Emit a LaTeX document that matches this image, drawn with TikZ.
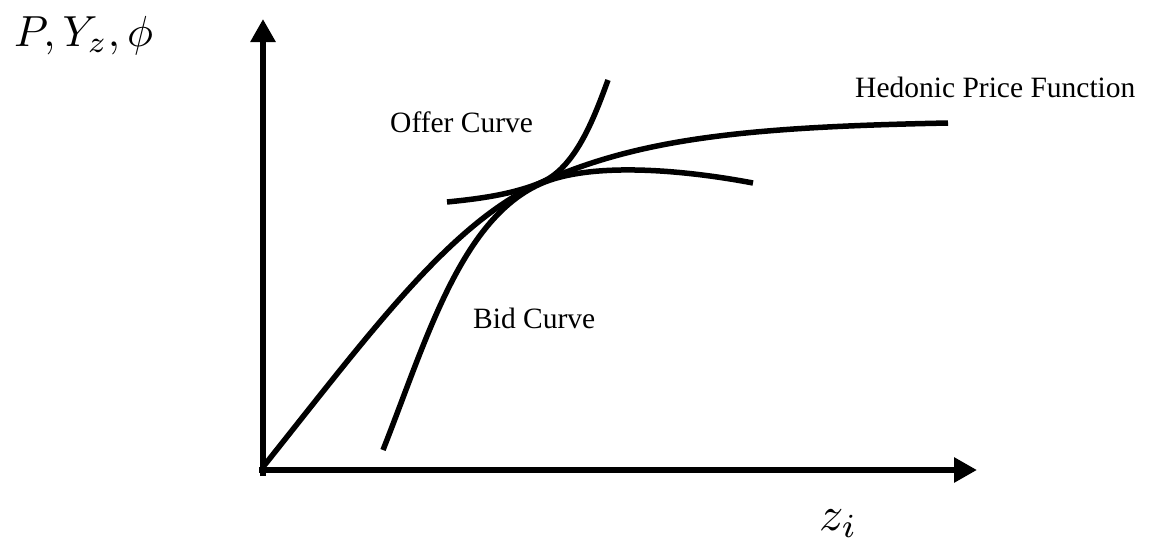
\documentclass[tikz,border=0pt]{standalone}
\usepackage{fontspec}
\setmainfont{Liberation Serif}
\usetikzlibrary{arrows.meta}
\begin{document}
\begin{tikzpicture}[x=1pt,y=-1pt,
  axis/.style={line width=6pt,-{Triangle[length=23pt,width=24pt]}},
  curve/.style={line width=5.5pt},
  lbl/.style={anchor=base west,inner sep=0pt,font=\fontsize{29.5}{34}\selectfont},
  mlbl/.style={anchor=base west,inner sep=0pt}]
\useasboundingbox (0,0) rectangle (1161,544);
\coordinate (ytip) at (263,19);
\coordinate (xtip) at (977,470);
\draw[axis] (263,476) -- (ytip);
\draw[axis] (259,470) -- (xtip);
% hedonic price function
\draw[curve] (263,467) .. controls (370,333) and (450,223.5) .. (540,183)
  .. controls (640,138) and (748,127) .. (948,123);
% bid curve
\draw[curve] (383,450) .. controls (425.5,342.5) and (460,220) .. (540,184)
  .. controls (590,161.5) and (683,169.7) .. (753,183);
% offer curve
\draw[curve] (447,202) .. controls (477,199) and (510,195) .. (540,183)
  .. controls (575,169) and (593.7,119) .. (608,80);
\node[lbl] (offer) at (390,132) {Offer Curve};
\node[lbl] (hedonic) at (855,97) {Hedonic Price Function};
\node[lbl] (bid) at (473,328) {Bid Curve};
\node[mlbl] (ylab) at (14,46) {\scalebox{4.35}{$P,Y_z,\phi$}};
\node[mlbl] (xlab) at (819,530) {\scalebox{4.8}{$z_i$}};
\end{tikzpicture}
\end{document}
